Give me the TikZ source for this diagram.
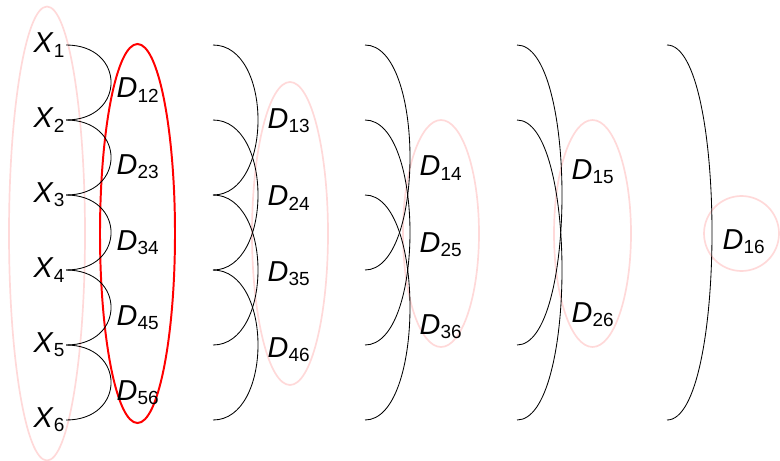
\documentclass[tikz,border=0pt]{standalone}
\usepackage{fontspec}
\setmainfont{Liberation Sans}

\newcommand{\vn}[2]{\textit{#1}\raisebox{-3pt}{\fontsize{13.5}{14}\selectfont #2}}

\begin{document}
\begin{tikzpicture}[x=0.025cm, y=-0.025cm,
  lbl/.style={anchor=west, inner sep=1pt, font=\fontsize{20.5}{23}\selectfont},
  grp/.style={draw=red!15, line width=1.2pt},
  sel/.style={draw=red, line width=1.4pt},
  ln/.style={line width=0.6pt}
]
\useasboundingbox (0,0) rectangle (780,460);
% groups
\draw[grp] (47,233.5) ellipse [x radius=38, y radius=227];
\draw[sel] (137.5,233.5) ellipse [x radius=37.5, y radius=189.5];
\draw[grp] (290,233.5) ellipse [x radius=38, y radius=151.5];
\draw[grp] (441,233.5) ellipse [x radius=38, y radius=113.5];
\draw[grp] (592.5,233.5) ellipse [x radius=38.5, y radius=113.5];
\draw[grp] (741.5,233.5) circle [radius=37.5];
% variables
\foreach \i in {1,...,6}
  \node[lbl] (X\i) at (32,{45+75*(\i-1)}) {\vn{X}{\i}};
% differences
\node[lbl] (D12) at (115,90) {\vn{D}{12}};
\node[lbl] (D23) at (115,167) {\vn{D}{23}};
\node[lbl] (D34) at (115,243) {\vn{D}{34}};
\node[lbl] (D45) at (115,318) {\vn{D}{45}};
\node[lbl] (D56) at (115,393) {\vn{D}{56}};
\node[lbl] (D13) at (266,121) {\vn{D}{13}};
\node[lbl] (D24) at (266,198) {\vn{D}{24}};
\node[lbl] (D35) at (266,274) {\vn{D}{35}};
\node[lbl] (D46) at (266,350) {\vn{D}{46}};
\node[lbl] (D14) at (418,168) {\vn{D}{14}};
\node[lbl] (D25) at (418,245) {\vn{D}{25}};
\node[lbl] (D36) at (418,327) {\vn{D}{36}};
\node[lbl] (D15) at (570,172) {\vn{D}{15}};
\node[lbl] (D26) at (570,315) {\vn{D}{26}};
\node[lbl] (D16) at (721,242) {\vn{D}{16}};
% arcs
\foreach \i [evaluate=\i as \j using int(\i+1)] in {1,...,5}
  \draw[ln] (X\i.east) .. controls +(60,0) and +(60,0) .. (X\j.east);
\foreach \k/\sx in {2/213,3/365,4/517,5/667}
  \foreach \i in {1,...,6}
    \coordinate (s\k-\i) at (\sx,{45+75*(\i-1)});
\foreach \k in {2,...,5} {
  \pgfmathtruncatemacro\n{6-\k}
  \foreach \i in {1,...,\n} {
    \pgfmathtruncatemacro\j{\i+\k}
    \draw[ln] (s\k-\i) .. controls +(60,0) and +(60,0) .. (s\k-\j);
  }
}
\end{tikzpicture}
\end{document}
